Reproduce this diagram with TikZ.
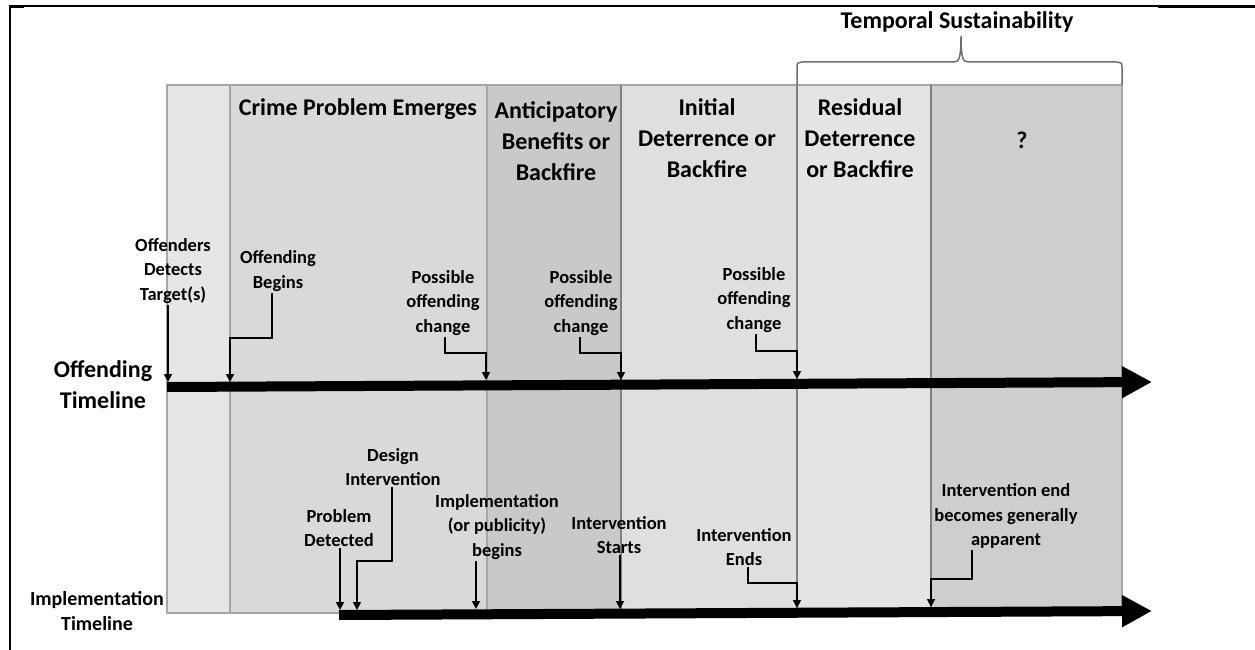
\documentclass[tikz,border=0pt]{standalone}
\usepackage{fontspec}
\setmainfont{Carlito}
\usetikzlibrary{arrows.meta,calc}
\definecolor{pA}{HTML}{E6E6E6}
\definecolor{pB}{HTML}{D9D9D9}
\definecolor{pC}{HTML}{C9C9C9}
\definecolor{pD}{HTML}{DFDFDF}
\definecolor{pE}{HTML}{E4E4E4}
\definecolor{pF}{HTML}{CECECE}
\definecolor{edge}{HTML}{A6A6A6}
\definecolor{edgedark}{HTML}{7F7F7F}
\definecolor{bracegray}{HTML}{6E6E6E}
\begin{document}
\begin{tikzpicture}[x=1pt,y=-1pt,
  lbl/.style={font=\bfseries\fontsize{18.5}{24.5}\selectfont, align=center, inner sep=1pt},
  ttl/.style={font=\bfseries\fontsize{24}{31}\selectfont, align=center, inner sep=0pt},
  conn/.style={line width=1.8pt, -{Triangle[length=8pt,width=8pt]}},
  bar/.style={line width=10pt, -{Triangle[length=30pt,width=30pt]}},
  panel/.style={draw=edge, line width=1.2pt}]
\useasboundingbox (0,0) rectangle (1255,650);
% frame
\draw[line width=1.2pt] (10,650) -- (10,6) -- (1255,6);
\draw[line width=2.4pt] (10,7) -- (24,7);
\draw[line width=2.4pt] (1158,7) -- (1255,7);
% panels
\fill[pA] (167,85) rectangle (230,613);
\fill[pB] (230,85) rectangle (487,613);
\fill[pC] (487,85) rectangle (621,613);
\fill[pD] (621,85) rectangle (797,613);
\fill[pE] (797,85) rectangle (931,613);
\fill[pF] (931,85) rectangle (1122,613);
\draw[panel] (167,85) rectangle (1122,613);
\draw[panel] (230,85) -- (230,613);
\draw[panel] (487,85) -- (487,613);
\draw[panel, draw=edgedark] (621,85) -- (621,613);
\draw[panel, draw=edgedark] (797,85) -- (797,613);
\draw[panel, draw=edgedark] (931,85) -- (931,613);
% panel titles
\node[ttl] (t2) at (358,109) {Crime Problem Emerges};
\node[ttl] (t3) at (556,141) {Anticipatory\\Benefits or\\Backfire};
\node[ttl] (t4) at (707,138) {Initial\\Deterrence or\\Backfire};
\node[ttl] (t5) at (860,138) {Residual\\Deterrence\\or Backfire};
\node[ttl] (t6) at (1022,140) {?};
% brace
\node[font=\bfseries\fontsize{24}{28}\selectfont] (ts) at (957,22) {Temporal Sustainability};
\draw[bracegray, line width=1.5pt] (797,85) -- (797,68) .. controls (797,63) .. (802,62) -- (954,62)
  .. controls (959,62) and (961,58) .. (961,36) .. controls (961,58) and (963,62) .. (968,62)
  -- (1117,62) .. controls (1122,63) .. (1122,68) -- (1122,85);
% timelines
\coordinate (os) at (167,387);
\coordinate (oe) at (1152,382);
\coordinate (is) at (339,615);
\coordinate (ie) at (1152,611);
\draw[bar] (os) -- (oe);
\draw[bar] (is) -- (ie);
\node[font=\bfseries\fontsize{24}{31}\selectfont, align=center] (ol) at (103,385) {Offending\\Timeline};
\node[font=\bfseries\fontsize{20}{25}\selectfont, align=center] (il) at (97,611) {Implementation\\Timeline};
% offending events
\coordinate (a1) at (168,382);
\coordinate (a2) at (230,382);
\coordinate (a3) at (486,380);
\coordinate (a4) at (621,380);
\coordinate (a5) at (797,379);
\node[lbl] (l1) at (173,271) {Offenders\\Detects\\Target(s)};
\node[lbl] (l2) at (278,271) {Offending\\Begins};
\node[lbl] (l3) at (443,303) {Possible\\offending\\change};
\node[lbl] (l4) at (581,303) {Possible\\offending\\change};
\node[lbl] (l5) at (754,300) {Possible\\offending\\change};
\draw[conn] (a1 |- l1.south) -- (a1);
\draw[conn] ([xshift=-6pt]l2.south) |- ($(a2)+(0,-44)$) -- (a2);
\draw[conn] ([xshift=2pt]l3.south) |- ($(a3)+(0,-27)$) -- (a3);
\draw[conn] ([xshift=-1pt]l4.south) |- ($(a4)+(0,-27)$) -- (a4);
\draw[conn] ([xshift=2pt]l5.south) |- ($(a5)+(0,-28)$) -- (a5);
% implementation events
\coordinate (b1) at (340,610);
\coordinate (b2) at (357,610);
\coordinate (b3) at (476,609);
\coordinate (b4) at (620,609);
\coordinate (b5) at (797,608);
\coordinate (b6) at (931,607);
\node[lbl] (l6) at (339,528) {Problem\\Detected};
\node[lbl] (l7) at (393,467) {Design\\Intervention};
\node[lbl] (l8) at (497,527) {Implementation\\(or publicity)\\begins};
\node[lbl] (l9) at (619,535) {Intervention\\Starts};
\node[lbl] (l10) at (744,547) {Intervention\\Ends};
\node[lbl] (l11) at (1006,516) {Intervention end\\becomes generally\\apparent};
\draw[conn] (b1 |- l6.south) -- (b1);
\draw[conn] ([xshift=-1pt]l7.south) |- ($(b2)+(0,-49)$) -- (b2);
\draw[conn] (b3 |- l8.south) -- (b3);
\draw[conn] (b4 |- l9.south) -- (b4);
\draw[conn] ([xshift=4pt]l10.south) |- ($(b5)+(0,-25)$) -- (b5);
\draw[conn] (972,0 |- l11.south) |- ($(b6)+(0,-28)$) -- (b6);
\end{tikzpicture}
\end{document}
